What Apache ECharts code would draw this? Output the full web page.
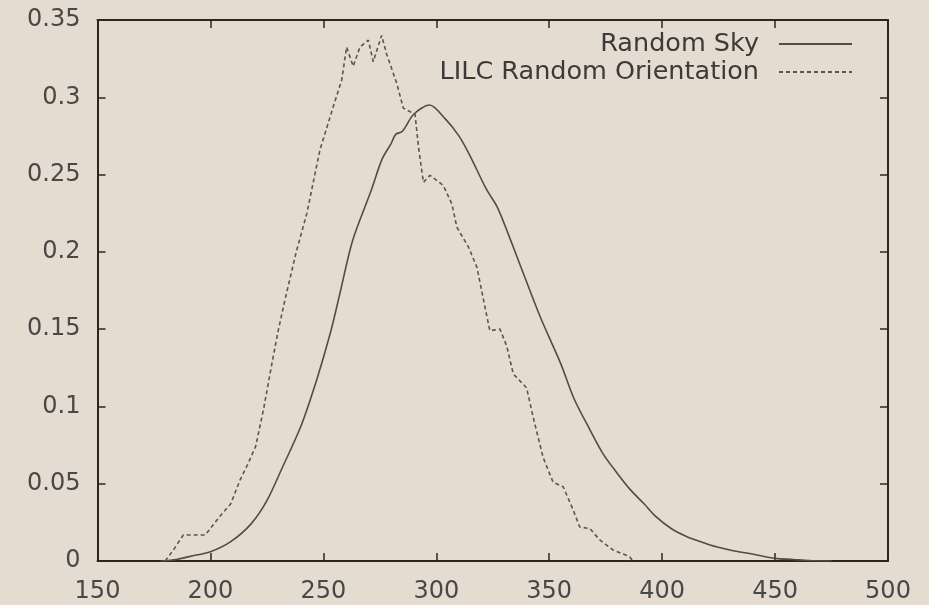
<!DOCTYPE html>
<html>
<head>
<meta charset="utf-8">
<script src="https://cdn.jsdelivr.net/npm/echarts@6/dist/echarts.min.js"></script>
<style>
  html, body { margin: 0; padding: 0; background: #e4dcd1; }
  #chart { width: 929px; height: 605px; }
</style>
</head>
<body>
<div id="chart"></div>
<script>
// x 轴和 y 轴刻度
const xTicks = [150, 200, 250, 300, 350, 400, 450, 500]
const yTicks = [0, 0.05, 0.1, 0.15, 0.2, 0.25, 0.3, 0.35]

// Random Sky（实线）
const skyX = [178, 185, 191, 200, 209, 218, 225, 232, 240, 247, 253, 257, 263, 271, 276, 280, 282, 285, 290, 297,
  304, 310, 315, 322, 327, 332, 337, 346, 355, 361, 368, 374, 380, 386, 392, 397, 404, 411, 418, 424, 432, 440, 450, 458, 465, 475]
const skyY = [0, 0.001, 0.003, 0.006, 0.0125, 0.024, 0.039, 0.061, 0.087, 0.117, 0.147, 0.171, 0.2075, 0.239, 0.26, 0.27, 0.276, 0.278, 0.289, 0.295,
  0.286, 0.275, 0.262, 0.241, 0.229, 0.211, 0.192, 0.158, 0.128, 0.105, 0.085, 0.069, 0.057, 0.046, 0.037, 0.029, 0.021, 0.0157, 0.012, 0.0092, 0.0065, 0.0045, 0.0017, 0.001, 0.0003, 0]

// LILC Random Orientation（虚线）
const lilcX = [180, 184, 188, 197.7, 204, 209, 213, 216, 220, 223.5, 227, 230, 233, 238, 242.7, 248.5, 254.4, 258.1, 260.3, 263.2,
  266.2, 269.9, 272.1, 273.6, 275.8, 278, 282.5, 285.4, 290.6, 292.1, 294.3, 297.2, 303.1, 306.9, 309.1, 314.3, 318, 320.9, 323.7, 328.2,
  331.2, 334.1, 340, 342.9, 347.3, 351.7, 356.2, 360.6, 363.5, 368, 372.4, 378.3, 385.6, 387]
const lilcY = [0, 0.008, 0.0168, 0.0168, 0.0286, 0.037, 0.052, 0.061, 0.074, 0.098, 0.126, 0.149, 0.169, 0.2, 0.225, 0.266, 0.294, 0.311, 0.3325, 0.32,
  0.3325, 0.337, 0.323, 0.33, 0.34, 0.328, 0.309, 0.293, 0.289, 0.268, 0.245, 0.2495, 0.243, 0.231, 0.216, 0.203, 0.19, 0.169, 0.149, 0.15,
  0.139, 0.121, 0.112, 0.093, 0.067, 0.051, 0.048, 0.033, 0.022, 0.021, 0.0136, 0.0071, 0.0028, 0]

const pairs = (xs, ys) => xs.map((x, i) => [x, ys[i]])

const lineColor = '#504c49'
const axisColor = '#2a2622'
const font = 'DejaVu Sans'

const chart = echarts.init(document.getElementById('chart'))

const axisCommon = {
  type: 'value',
  axisLine: { show: true, onZero: false, lineStyle: { color: axisColor, width: 2 } },
  axisTick: { show: true, inside: true, length: 8, lineStyle: { color: axisColor, width: 1.5 } },
  splitLine: { show: false }
}

// 图例：文字在左，线段在右
const legendCommon = {
  right: 76, padding: 0,
  align: 'right', itemWidth: 73, itemHeight: 14,
  itemStyle: { opacity: 0 },
  textStyle: { fontFamily: font, fontSize: 25.5, color: '#3c3a38', padding: [0, 15, 0, 0] }
}

chart.setOption({
  backgroundColor: '#e4dcd1',
  animation: false,
  grid: { left: 97.5, right: 41, top: 20, bottom: 44 },
  legend: [
    Object.assign({}, legendCommon, { data: ['Random Sky'], top: 31 }),
    Object.assign({}, legendCommon, { data: ['LILC Random Orientation'], top: 59 })
  ],
  xAxis: [
    Object.assign({}, axisCommon, {
      min: xTicks[0], max: xTicks[xTicks.length - 1], interval: 50, position: 'bottom',
      axisLabel: { fontFamily: font, fontSize: 24, color: '#4a4846', margin: 19 }
    }),
    Object.assign({}, axisCommon, {
      min: xTicks[0], max: xTicks[xTicks.length - 1], interval: 50, position: 'top',
      axisLabel: { show: false }
    })
  ],
  yAxis: [
    Object.assign({}, axisCommon, {
      min: yTicks[0], max: yTicks[yTicks.length - 1], interval: 0.05, position: 'left',
      axisLabel: { fontFamily: font, fontSize: 24, color: '#4a4846', margin: 17 }
    }),
    Object.assign({}, axisCommon, {
      min: yTicks[0], max: yTicks[yTicks.length - 1], interval: 0.05, position: 'right',
      axisLabel: { show: false }
    })
  ],
  series: [
    {
      name: 'Random Sky',
      type: 'line',
      data: pairs(skyX, skyY),
      symbol: 'none',
      smooth: 0.3,
      lineStyle: { color: lineColor, width: 1.6 },
      itemStyle: { color: lineColor }
    },
    {
      name: 'LILC Random Orientation',
      type: 'line',
      data: pairs(lilcX, lilcY),
      symbol: 'none',
      lineStyle: { color: '#5a5552', width: 1.6, type: [4, 3] },
      itemStyle: { color: lineColor }
    }
  ]
})

window.addEventListener('resize', () => {
  chart.resize()
})
</script>
</body>
</html>
